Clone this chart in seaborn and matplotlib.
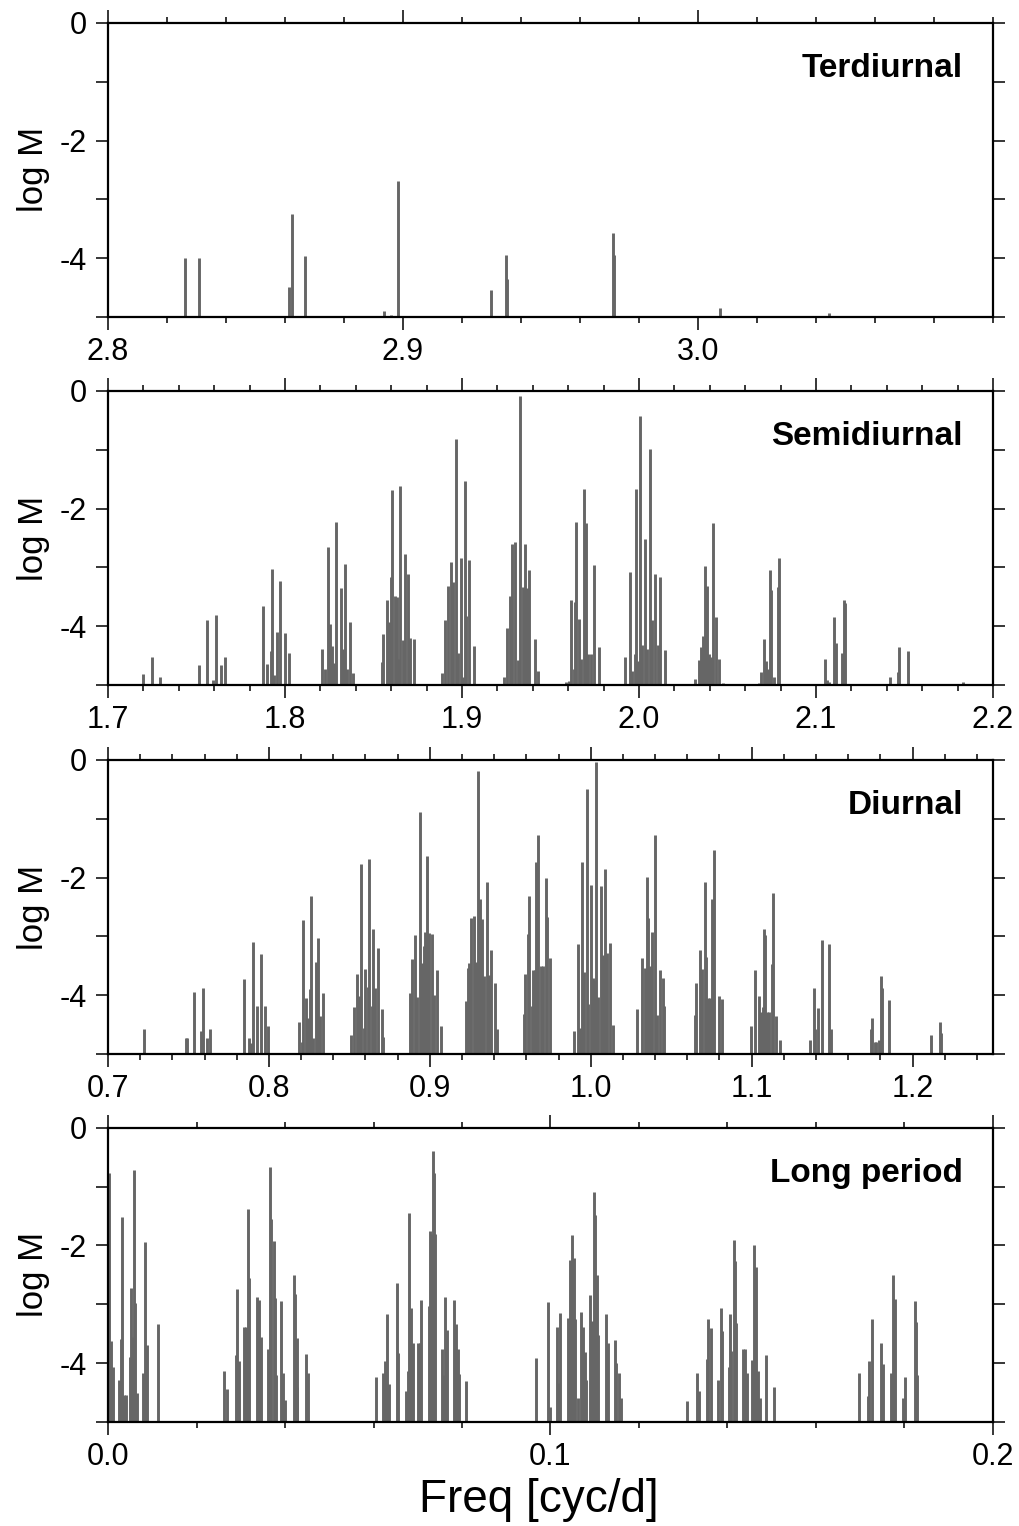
import seaborn as sns
import matplotlib.pyplot as plt
import matplotlib.ticker as mticker
import numpy as np

# tidal spectrum: frequency [cyc/d] and log amplitude for each band
ter_freq = [2.8260, 2.8310, 2.8615, 2.8624, 2.8669, 2.8936, 2.8958, 2.8984,
            2.9298, 2.9348, 2.9352, 2.9713, 2.9716, 3.0076, 3.0443]
ter_logm = [-4.00, -4.00, -4.49, -3.25, -3.97, -4.90, -4.96, -2.69,
            -4.55, -3.95, -4.36, -3.58, -3.95, -4.84, -4.93]

semi_freq = [1.7199, 1.7250, 1.7296, 1.7512, 1.7561, 1.7592, 1.7612, 1.7636, 1.7661,
             1.7876, 1.7896, 1.7919, 1.7927, 1.7940, 1.7953, 1.7974, 1.8002, 1.8025,
             1.8211, 1.8226, 1.8241, 1.8254, 1.8266, 1.8277, 1.8288, 1.8316, 1.8330,
             1.8339, 1.8348, 1.8367, 1.8386,
             1.8546, 1.8554, 1.8576, 1.8590, 1.8599, 1.8606, 1.8623, 1.8635, 1.8640,
             1.8648, 1.8668, 1.8678, 1.8697, 1.8706, 1.8729,
             1.8885, 1.8904, 1.8919, 1.8938, 1.8951, 1.8964, 1.8976, 1.8993, 1.9004,
             1.9015, 1.9024, 1.9040, 1.9070,
             1.9239, 1.9252, 1.9269, 1.9280, 1.9299, 1.9314, 1.9329, 1.9342, 1.9355,
             1.9367, 1.9380, 1.9412, 1.9431,
             1.9586, 1.9604, 1.9616, 1.9633, 1.9640, 1.9646, 1.9663, 1.9672, 1.9691,
             1.9700, 1.9713, 1.9727, 1.9746, 1.9774,
             1.9921, 1.9950, 1.9963, 1.9976, 1.9982, 1.9993, 2.0006, 2.0016, 2.0035,
             2.0048, 2.0061, 2.0073, 2.0088, 2.0109, 2.0116, 2.0145,
             2.0316, 2.0339, 2.0349, 2.0364, 2.0373, 2.0382, 2.0397, 2.0409, 2.0420,
             2.0433, 2.0454, 2.0477,
             2.0680, 2.0689, 2.0708, 2.0717, 2.0730, 2.0738, 2.0746, 2.0765, 2.0784,
             2.0793,
             2.1051, 2.1061, 2.1076, 2.1104, 2.1111, 2.1149, 2.1157, 2.1164,
             2.1418, 2.1461, 2.1471, 2.1522, 2.1833]
semi_logm = [-4.81, -4.53, -4.87, -4.66, -3.89, -4.91, -3.81, -4.66, -4.52,
             -3.65, -4.64, -4.43, -3.02, -4.83, -4.10, -3.23, -4.12, -4.45,
             -4.38, -4.72, -2.65, -3.97, -4.33, -4.63, -2.23, -3.35, -4.39,
             -2.94, -4.72, -3.93, -4.80,
             -4.61, -4.13, -3.56, -3.93, -3.16, -1.69, -3.48, -3.50, -4.56,
             -1.62, -4.24, -2.78, -3.12, -4.20, -4.21,
             -4.80, -3.90, -3.31, -2.90, -3.24, -0.82, -4.46, -2.84, -4.87,
             -1.53, -3.83, -2.88, -4.33,
             -4.87, -4.03, -3.48, -2.61, -2.57, -4.57, -0.08, -3.33, -2.61,
             -3.35, -3.04, -4.22, -4.77,
             -4.95, -4.94, -3.55, -4.73, -3.59, -2.23, -3.88, -4.55, -1.66,
             -2.25, -4.48, -4.48, -2.96, -4.36,
             -4.53, -3.07, -4.77, -4.48, -1.66, -4.59, -0.42, -4.32, -2.51,
             -4.39, -0.99, -3.89, -3.11, -4.32, -3.17, -4.41,
             -4.90, -4.57, -4.35, -4.17, -2.97, -3.32, -4.47, -4.53, -2.25,
             -3.85, -4.56, -4.96,
             -4.96, -4.78, -4.22, -4.59, -4.73, -3.04, -3.39, -4.87, -3.33,
             -2.84,
             -4.56, -4.91, -4.95, -3.84, -4.29, -4.45, -3.55, -3.60,
             -4.87, -4.78, -4.36, -4.43, -4.95]

diu_freq = [0.7224, 0.7484, 0.7493, 0.7536, 0.7578, 0.7588, 0.7613, 0.7634,
            0.7847, 0.7874, 0.7888, 0.7901, 0.7923, 0.7948, 0.7973, 0.7994,
            0.8186, 0.8203, 0.8213, 0.8230, 0.8242, 0.8255, 0.8261, 0.8275, 0.8290,
            0.8306, 0.8319, 0.8337,
            0.8513, 0.8528, 0.8546, 0.8561, 0.8575, 0.8590, 0.8600, 0.8613, 0.8623,
            0.8638, 0.8648, 0.8660, 0.8675, 0.8700, 0.8710,
            0.8876, 0.8890, 0.8911, 0.8919, 0.8938, 0.8952, 0.8965, 0.8973, 0.8985,
            0.8996, 0.9015, 0.9029, 0.9043, 0.9068,
            0.9224, 0.9238, 0.9246, 0.9257, 0.9273, 0.9284, 0.9300, 0.9313, 0.9327,
            0.9338, 0.9358, 0.9369, 0.9383, 0.9408, 0.9415,
            0.9586, 0.9594, 0.9611, 0.9617, 0.9632, 0.9642, 0.9652, 0.9663, 0.9673,
            0.9688, 0.9702, 0.9719, 0.9729, 0.9750,
            0.9894, 0.9921, 0.9936, 0.9948, 0.9959, 0.9977, 0.9985, 1.0004, 1.0012,
            1.0020, 1.0031, 1.0045, 1.0062, 1.0078, 1.0087, 1.0099, 1.0118, 1.0141,
            1.0290, 1.0319, 1.0340, 1.0348, 1.0356, 1.0367, 1.0381, 1.0398, 1.0414,
            1.0429, 1.0450, 1.0456,
            1.0646, 1.0656, 1.0677, 1.0693, 1.0708, 1.0719, 1.0729, 1.0740, 1.0752,
            1.0764, 1.0795, 1.0816,
            1.0994, 1.1023, 1.1046, 1.1056, 1.1068, 1.1075, 1.1083, 1.1095, 1.1106,
            1.1124, 1.1131, 1.1153, 1.1178,
            1.1360, 1.1387, 1.1397, 1.1414, 1.1439, 1.1484, 1.1495,
            1.1745, 1.1751, 1.1764, 1.1774, 1.1791, 1.1803, 1.1811, 1.1853,
            1.2116, 1.2168, 1.2174]
diu_logm = [-4.58, -4.72, -4.72, -3.95, -4.61, -3.88, -4.72, -4.58,
            -3.72, -4.72, -4.82, -3.10, -4.18, -3.30, -4.18, -4.52,
            -4.46, -4.80, -2.72, -4.04, -4.38, -3.89, -2.31, -4.72, -3.43,
            -3.03, -4.35, -3.97,
            -4.68, -4.20, -3.64, -4.01, -1.77, -4.56, -3.55, -3.86, -1.68,
            -4.18, -2.88, -3.87, -3.20, -4.24, -4.71,
            -3.97, -3.39, -2.98, -4.03, -0.89, -3.46, -3.17, -2.92, -1.63,
            -2.95, -2.96, -4.00, -3.57, -4.52,
            -4.10, -3.54, -3.46, -2.69, -2.65, -3.43, -0.18, -2.36, -2.70,
            -3.68, -2.07, -3.66, -3.23, -3.80, -4.58,
            -4.32, -3.64, -2.96, -2.31, -4.18, -3.58, -3.58, -1.73, -1.28,
            -3.50, -3.51, -2.00, -2.67, -3.37,
            -4.61, -3.13, -4.56, -1.74, -3.60, -0.50, -4.15, -2.13, -3.71,
            -3.74, -0.03, -4.03, -2.14, -3.32, -1.86, -3.28, -3.12, -4.51,
            -4.24, -3.37, -3.53, -1.99, -2.69, -3.50, -2.92, -1.28, -4.34,
            -3.57, -3.70, -4.18,
            -4.34, -3.80, -3.23, -3.56, -2.07, -3.35, -4.04, -4.04, -2.37,
            -1.53, -4.01, -4.07,
            -4.52, -3.58, -4.01, -4.28, -4.20, -2.87, -2.98, -4.29, -4.29,
            -3.47, -2.27, -4.35, -4.76,
            -4.76, -3.88, -4.57, -4.21, -3.06, -3.13, -4.57,
            -4.57, -4.38, -4.80, -4.80, -4.76, -3.67, -3.87, -4.08,
            -4.68, -4.45, -4.65]

lp_freq = [0.0002, 0.0007, 0.0012, 0.0025, 0.0029, 0.0031, 0.0035, 0.0040, 0.0050,
           0.0052, 0.0056, 0.0059, 0.0062, 0.0065, 0.0080, 0.0084, 0.0088, 0.0112,
           0.0261, 0.0270, 0.0289, 0.0291, 0.0295, 0.0308, 0.0311, 0.0316, 0.0319,
           0.0336, 0.0341, 0.0346, 0.0361, 0.0365, 0.0368, 0.0374, 0.0377, 0.0380,
           0.0391, 0.0396, 0.0400, 0.0420, 0.0423, 0.0426, 0.0428, 0.0447, 0.0451,
           0.0605, 0.0622, 0.0626, 0.0631, 0.0635, 0.0653, 0.0656, 0.0673, 0.0677,
           0.0680, 0.0684, 0.0689, 0.0700, 0.0705, 0.0708, 0.0725, 0.0728, 0.0731,
           0.0734, 0.0737, 0.0740, 0.0755, 0.0759, 0.0762, 0.0765, 0.0782, 0.0786,
           0.0792, 0.0794, 0.0810,
           0.0967, 0.0995, 0.0998, 0.1015, 0.1019, 0.1022, 0.1040, 0.1044, 0.1049,
           0.1053, 0.1055, 0.1063, 0.1070, 0.1074, 0.1078, 0.1081, 0.1090, 0.1094,
           0.1098, 0.1101, 0.1104, 0.1108, 0.1125, 0.1129, 0.1146, 0.1149, 0.1155,
           0.1160,
           0.1308, 0.1330, 0.1336, 0.1354, 0.1357, 0.1363, 0.1379, 0.1385, 0.1388,
           0.1403, 0.1406, 0.1409, 0.1414, 0.1417, 0.1419, 0.1435, 0.1440, 0.1444,
           0.1455, 0.1459, 0.1461, 0.1464, 0.1470, 0.1474, 0.1487, 0.1506,
           0.1698, 0.1717, 0.1720, 0.1726, 0.1748, 0.1751, 0.1770, 0.1774, 0.1778,
           0.1797, 0.1802, 0.1823, 0.1827, 0.1829]
lp_logm = [-0.77, -3.63, -4.06, -4.29, -3.59, -1.52, -4.54, -4.54, -3.90,
           -2.72, -3.55, -0.71, -2.98, -4.51, -4.17, -1.94, -3.70, -3.34,
           -4.14, -4.44, -3.87, -2.74, -3.97, -3.39, -3.39, -1.38, -2.56,
           -2.87, -2.93, -3.55, -3.76, -0.66, -1.55, -1.93, -2.89, -4.21,
           -2.94, -4.16, -4.63, -2.51, -2.82, -3.57, -4.40, -3.84, -4.17,
           -4.23, -4.17, -3.97, -3.17, -4.36, -2.63, -3.83, -4.47, -4.13,
           -1.45, -3.07, -3.65, -3.66, -3.66, -2.92, -3.03, -1.75, -1.81,
           -0.39, -0.77, -1.81, -3.76, -4.21, -2.87, -3.44, -2.92, -3.33,
           -3.76, -4.19, -4.30,
           -3.92, -2.96, -4.75, -3.38, -4.34, -3.15, -3.24, -2.24, -1.83,
           -2.22, -3.25, -4.60, -3.13, -3.38, -3.81, -4.28, -2.84, -3.28,
           -1.09, -1.49, -2.51, -3.53, -3.17, -3.65, -3.61, -4.00, -4.17,
           -4.60,
           -4.64, -4.16, -4.47, -3.93, -3.25, -3.40, -4.28, -3.07, -3.46,
           -4.06, -3.17, -3.79, -1.90, -2.27, -3.31, -3.76, -3.76, -4.17,
           -3.95, -4.23, -1.99, -2.37, -4.13, -4.60, -3.86, -4.41,
           -4.17, -4.56, -3.97, -3.25, -3.65, -4.02, -4.16, -2.51, -2.91,
           -4.60, -4.23, -2.94, -3.30, -4.21]

band_names = ["Terdiurnal", "Semidiurnal", "Diurnal", "Long period"]

sns.set_theme(style="ticks")
plt.rcParams['font.family'] = ['Liberation Sans', 'DejaVu Sans']
plt.rcParams['axes.unicode_minus'] = False
plt.rcParams['text.color'] = 'black'
plt.rcParams['axes.labelcolor'] = 'black'
plt.rcParams['xtick.color'] = 'black'
plt.rcParams['ytick.color'] = 'black'

fig = plt.figure(figsize=(10.2, 15.26), dpi=100)

panels = [
    (ter_freq, ter_logm, (2.8, 3.1), [2.8, 2.9, 3.0], 0.7923),
    (semi_freq, semi_logm, (1.7, 2.2), np.arange(1.7, 2.21, 0.1), 0.5511),
    (diu_freq, diu_logm, (0.7, 1.25), np.arange(0.7, 1.21, 0.1), 0.3093),
    (lp_freq, lp_logm, (0.0, 0.2), [0.0, 0.1, 0.2], 0.0682),
]

gray = "#666666"

for (freq, logm, xlim, xt, bottom), name in zip(panels, band_names):
    ax = fig.add_axes([0.1059, bottom, 0.8676, 0.1927])
    ax.vlines(freq, -5, logm, color=gray, lw=2.1)

    ax.set_xlim(*xlim)
    ax.set_ylim(-5, 0)
    ax.set_xticks(xt)
    ax.xaxis.set_minor_locator(mticker.MultipleLocator(0.02))
    ax.xaxis.set_major_formatter(mticker.FormatStrFormatter('%.1f'))
    ax.set_yticks(np.arange(-5, 1, 1))
    ax.yaxis.set_major_formatter(mticker.FuncFormatter(
        lambda v, p: f"{int(round(v))}" if int(round(v)) % 2 == 0 and v > -5 else ""))

    ax.tick_params(axis='x', which='major', length=9.5, width=1.1, top=True,
                   labelsize=22, pad=5)
    ax.tick_params(axis='x', which='minor', length=4.5, width=1.1, top=True)
    ax.tick_params(axis='y', which='major', length=8.5, width=1.1, right=True,
                   labelsize=22, pad=7)
    for sp in ax.spines.values():
        sp.set_linewidth(1.6)
        sp.set_color('black')

    ax.set_ylabel("log M", fontsize=25)
    ax.yaxis.set_label_coords(-0.066, 0.5)
    ax.text(0.966, 0.845, name, transform=ax.transAxes, ha='right', va='center',
            fontsize=24, fontweight='bold')
    last_ax = ax

last_ax.set_xlabel("Freq [cyc/d]", fontsize=33, va='top')
last_ax.xaxis.set_label_coords(0.487, -0.19)

plt.savefig("out.png", dpi=100, facecolor='white')
